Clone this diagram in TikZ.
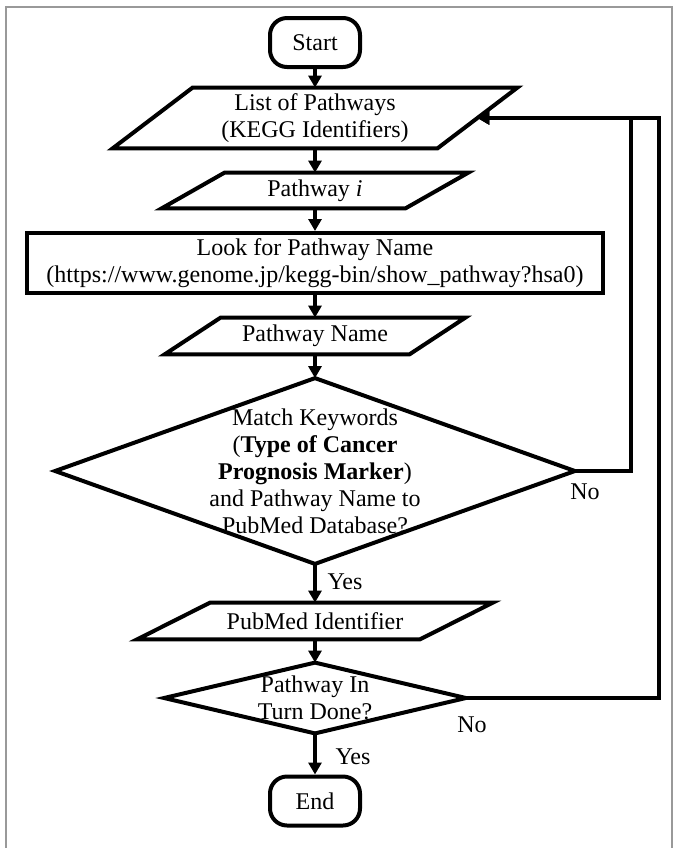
\documentclass[tikz,border=0pt]{standalone}
\usepackage{fontspec}
\setmainfont{Liberation Serif}
\usetikzlibrary{arrows.meta}

\tikzset{
    every node/.style={font=\fontsize{12}{13.5}\selectfont, align=center, inner sep=0pt},
    shapeLine/.style={line width=2pt, line join=miter},
    terminal/.style={draw, shapeLine, rounded corners=8.5pt, minimum width=45pt, minimum height=24.5pt},
    process/.style={draw, shapeLine, minimum width=288pt, minimum height=30pt},
    % parallelogram drawn round a plain text node, #1 = half the lean
    iobox/.style={append after command={\pgfextra{\draw[shapeLine]
        ([xshift=#1]\tikzlastnode.north west) -- ([xshift=#1]\tikzlastnode.north east)
        -- ([xshift=-#1]\tikzlastnode.south east) -- ([xshift=-#1]\tikzlastnode.south west) -- cycle;}}},
    decision/.style={append after command={\pgfextra{\draw[shapeLine]
        (\tikzlastnode.north) -- (\tikzlastnode.east) -- (\tikzlastnode.south)
        -- (\tikzlastnode.west) -- cycle;}}},
    flow/.style={line width=1.6pt, -{Triangle[width=6.5pt, length=6pt]}},
}

\begin{document}
\begin{tikzpicture}[x=0.5pt, y=-0.5pt]
    \useasboundingbox (0,0) rectangle (675,848);
    \clip (0,0) rectangle (675,848);
    \draw[gray!80, line width=1pt] (6,7) rectangle (672,900);

    \node[terminal] (start) at (315,42.5) {Start};
    \node[iobox=20pt, minimum width=162pt, minimum height=30pt] (list) at (315,118)
        {List of Pathways\\(KEGG Identifiers)};
    \node[iobox=15.75pt, minimum width=121.5pt, minimum height=17.5pt] (pwi) at (315,190.5)
        {Pathway \textit{i}};
    \node[process] (look) at (315,263)
        {Look for Pathway Name\\(https://www.genome.jp/kegg-bin/show\_pathway?hsa0)};
    \node[iobox=14pt, minimum width=122pt, minimum height=18pt] (pwname) at (315,336)
        {Pathway Name};
    \node[decision, minimum width=259.5pt, minimum height=92.5pt] (match) at (315,471)
        {Match Keywords\\(\textbf{Type of Cancer}\\\textbf{Prognosis Marker})\\and Pathway Name to\\PubMed Database?};
    \node[iobox=18.25pt, minimum width=141pt, minimum height=18pt] (pubmed) at (315,621)
        {PubMed Identifier};
    \node[decision, minimum width=150.5pt, minimum height=35pt] (done) at (315,698)
        {Pathway In\\Turn Done?};
    \node[terminal] (end) at (315,801) {End};

    \draw[flow] (start.south) -- (list.north);
    \draw[flow] (list.south) -- (pwi.north);
    \draw[flow] (pwi.south) -- (look.north);
    \draw[flow] (look.south) -- (pwname.north);
    \draw[flow] (pwname.south) -- (match.north);
    \draw[flow] (match.south) -- (pubmed.north);
    \draw[flow] (pubmed.south) -- (done.north);
    \draw[flow] (done.south) -- (end.north);

    % loops back to the list
    \coordinate (loopTop) at (659,118);
    \draw[flow] (match.east) -- ++(56,0) |- (list.east);
    \draw[flow] (done.east) -| (loopTop) -- (list.east);

    \node (yes1) at (345,582) {Yes};
    \node (no1) at (585,492) {No};
    \node (no2) at (472,725) {No};
    \node (yes2) at (353,757) {Yes};
\end{tikzpicture}
\end{document}
